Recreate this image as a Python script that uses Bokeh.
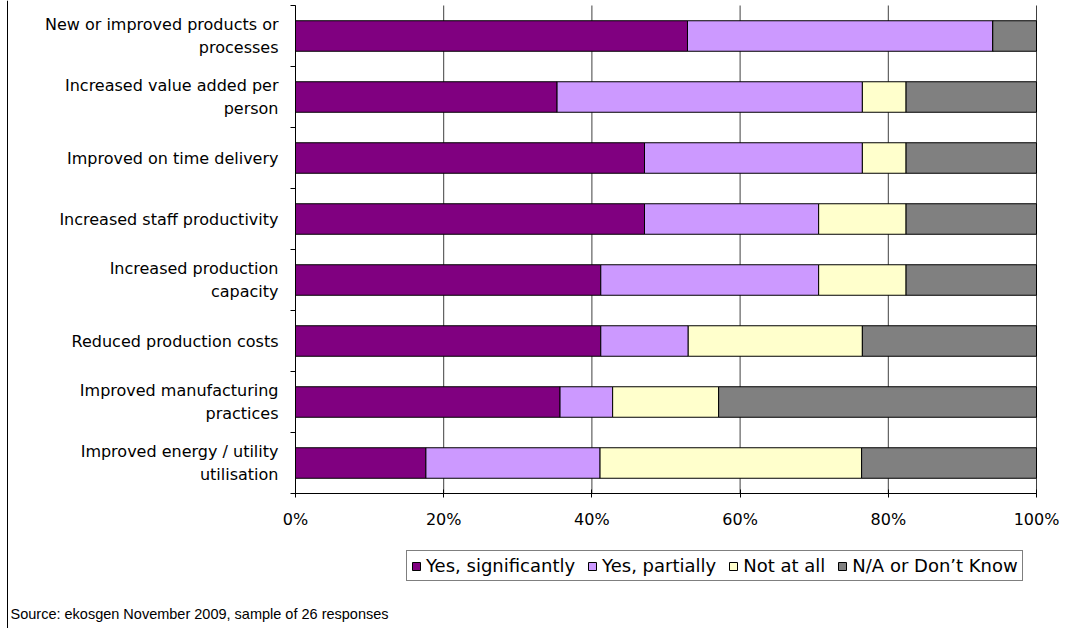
from bokeh.plotting import figure
from bokeh.models import (ColumnDataSource, Range1d, LinearAxis, Span, Label,
                          FixedTicker, PrintfTickFormatter, Legend, LegendItem)
from bokeh.embed import file_html
from bokeh.resources import INLINE

categories = [
    "New or improved products or processes",
    "Increased value added per person",
    "Improved on time delivery",
    "Increased staff productivity",
    "Increased production capacity",
    "Reduced production costs",
    "Improved manufacturing practices",
    "Improved energy / utility utilisation",
]
category_labels = [
    "New or improved products or\nprocesses",
    "Increased value added per\nperson",
    "Improved on time delivery",
    "Increased staff productivity",
    "Increased production\ncapacity",
    "Reduced production costs",
    "Improved manufacturing\npractices",
    "Improved energy / utility\nutilisation",
]
series_names = ["Yes, significantly", "Yes, partially", "Not at all", "N/A or Don\u2019t Know"]
yes_significantly = [52.9, 35.3, 47.1, 47.1, 41.2, 41.2, 35.7, 17.6]
yes_partially = [41.2, 41.2, 29.4, 23.5, 29.4, 11.8, 7.1, 23.5]
not_at_all = [0.0, 5.9, 5.9, 11.8, 11.8, 23.5, 14.3, 35.3]
na_dont_know = [5.9, 17.6, 17.6, 17.6, 17.6, 23.5, 42.9, 23.6]
x_ticks = [0, 20, 40, 60, 80, 100]
source_note = "Source: ekosgen November 2009, sample of 26 responses"

colors = ["#800080", "#CC99FF", "#FFFFCC", "#808080"]
keys = ["s1", "s2", "s3", "s4"]

n = len(categories)
ypos = [n - i - 0.5 for i in range(n)]  # first category on top

src = ColumnDataSource(dict(cat=categories, y=ypos, s1=yes_significantly, s2=yes_partially,
                            s3=not_at_all, s4=na_dont_know))

# page layout (pixels)
W, H = 1082, 628
PLOT_L, PLOT_R, PLOT_T, PLOT_B = 295, 1036, 5, 493
px_x = (PLOT_R - PLOT_L) / 100.0
px_y = (PLOT_B - PLOT_T) / n
x_range = Range1d(-PLOT_L / px_x, 100 + (W - PLOT_R) / px_x)
y_range = Range1d(-(H - PLOT_B) / px_y, n + PLOT_T / px_y)

FONT = "DejaVu Sans"

p = figure(width=W, height=H, output_backend="svg", toolbar_location=None,
           x_range=x_range, y_range=y_range,
           x_axis_location=None, y_axis_location=None,
           min_border=0, min_border_left=0, min_border_right=0,
           min_border_top=0, min_border_bottom=0)
p.outline_line_color = None
p.background_fill_color = "white"
p.border_fill_color = "white"
p.grid.visible = False

# vertical gridlines at the x ticks, spanning the category area
p.segment(x0=x_ticks, y0=[0] * len(x_ticks), x1=x_ticks, y1=[n] * len(x_ticks),
          line_color="#404040", line_width=1)

rends = p.hbar_stack(keys, y="y", height=0.5, color=colors, source=src,
                     line_color="black", line_width=1)

# bottom axis
xaxis = LinearAxis(fixed_location=0, bounds=(0, 100), ticker=FixedTicker(ticks=x_ticks),
                   formatter=PrintfTickFormatter(format="%d%%"))
xaxis.axis_line_color = "black"
xaxis.major_tick_line_color = "black"
xaxis.major_tick_in = 4
xaxis.major_tick_out = 4
xaxis.minor_tick_line_color = None
xaxis.major_label_standoff = 12
xaxis.major_label_text_font = FONT
xaxis.major_label_text_font_size = "16px"
xaxis.major_label_text_color = "black"
p.add_layout(xaxis, "below")

# left axis: labels at category centres, tick marks between categories
label_axis = LinearAxis(fixed_location=0, bounds=(0, n),
                        ticker=FixedTicker(ticks=ypos, minor_ticks=list(range(n + 1))))
label_axis.axis_line_color = "black"
label_axis.major_tick_line_color = None
label_axis.major_tick_in = 0
label_axis.major_tick_out = 0
label_axis.minor_tick_line_color = "black"
label_axis.minor_tick_in = 0
label_axis.minor_tick_out = 5
label_axis.major_label_standoff = 12
label_axis.major_label_text_font = FONT
label_axis.major_label_text_font_size = "16px"
label_axis.major_label_text_color = "black"
label_axis.major_label_overrides = dict(zip(ypos, category_labels))
p.add_layout(label_axis, "left")

legend = Legend(items=[LegendItem(label=s, renderers=[r]) for s, r in zip(series_names, rends)],
                orientation="horizontal", location=(406, H - 581))
legend.border_line_color = "black"
legend.border_line_width = 1
legend.background_fill_color = "white"
legend.background_fill_alpha = 1
legend.label_text_font = FONT
legend.label_text_font_size = "18px"
legend.label_text_color = "black"
legend.glyph_width = 10
legend.glyph_height = 10
legend.label_standoff = 5
legend.spacing = 12
legend.padding = 4
legend.margin = 0
p.add_layout(legend, "center")

note = Label(x=10, y=H - 613, x_units="screen", y_units="screen", text=source_note,
             text_font="Liberation Sans", text_font_size="14.5px", text_baseline="middle",
             text_color="black")
p.add_layout(note)

edge = Span(location=7, location_units="screen", dimension="height",
            line_color="black", line_width=1)
p.add_layout(edge)

open("out.html", "w").write(file_html(p, INLINE))
